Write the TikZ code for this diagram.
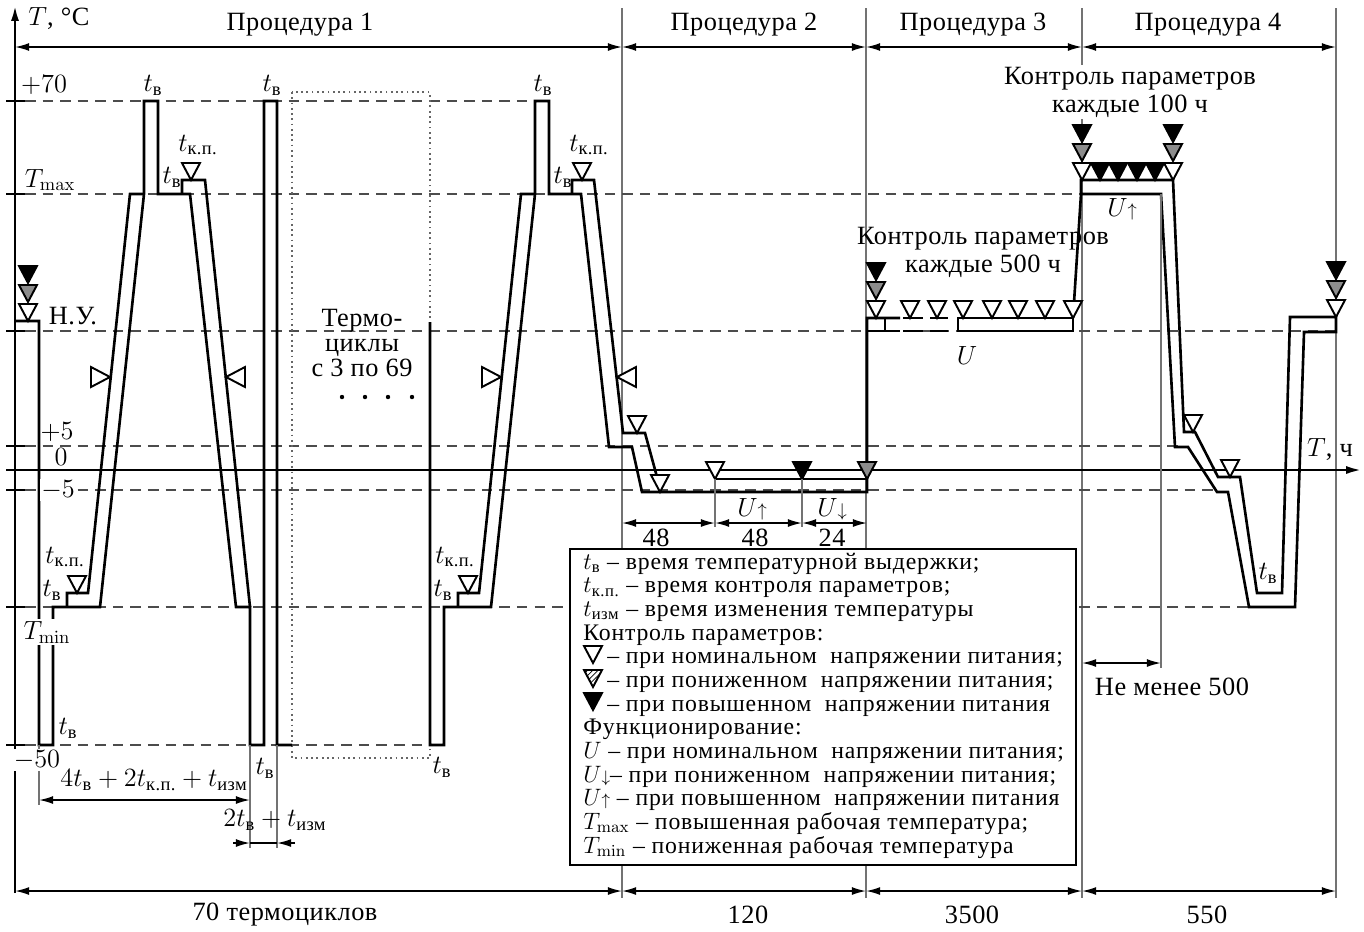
\RequirePackage{fix-cm}
\documentclass[tikz,border=0pt]{standalone}
\usepackage{amsmath}
\usepackage[no-math]{fontspec}
\setmainfont[LetterSpace=2]{Liberation Serif}
\newfontfamily\legfont[LetterSpace=3.5]{Liberation Serif}
\usetikzlibrary{arrows.meta,patterns}

\tikzset{
  prof/.style={line width=1.5pt, line join=miter},
  procline/.style={line width=0.7pt, black!55},
  lvline/.style={line width=0.8pt, black!70, dash pattern=on 6pt off 4pt},
  trimark/.style={line width=1.1pt, line join=miter},
  dimarrow/.style={line width=0.9pt, {Latex[length=8pt,width=4.5pt]}-{Latex[length=8pt,width=4.5pt]}},
  onearrow/.style={line width=0.9pt, -{Latex[length=8pt,width=4.5pt]}},
  lab/.style={inner sep=1pt},
  wlab/.style={inner sep=1pt, fill=white},
  legtext/.style={anchor=base west, inner sep=0pt, font=\legfont\fontsize{13.5}{15}\selectfont}
}
\newcommand{\tridn}[3]{\draw[trimark, fill=#3] (#1-9,#2-17) -- (#1+9,#2-17) -- (#1,#2) -- cycle;}
\newcommand{\trirt}[2]{\draw[trimark, fill=white] (#1-19,#2-10) -- (#1-19,#2+10) -- (#1,#2) -- cycle;}
\newcommand{\trilt}[2]{\draw[trimark, fill=white] (#1+19,#2-10) -- (#1+19,#2+10) -- (#1,#2) -- cycle;}
\newcommand{\tv}{t_{\text{в}}}
\newcommand{\tkp}{t_{\text{к.п.}}}
\newcommand{\tizm}{t_{\text{изм}}}

\begin{document}
\begin{tikzpicture}[x=0.02cm, y=-0.02cm, font=\fontsize{15}{16}\selectfont]
  \useasboundingbox (0,0) rectangle (1364,931);
  % procedure borders
  \foreach \x in {622,866,1082,1336} {
    \draw[procline] (\x,8) -- (\x,898);
  }
  % temperature levels
  \draw[lvline] (25,101) -- (535,101);
  \draw[lvline] (25,194) -- (1082,194);
  \draw[lvline] (25,331) -- (1336,331);
  \draw[lvline] (25,446) -- (1180,446);
  \draw[lvline] (25,490) -- (1217,490);
  \draw[lvline] (25,607) -- (1250,607);
  \draw[lvline] (25,745) -- (430,745);
  \foreach \y in {101,194,331,446,490,607,745} {
    \draw[line width=1.5pt] (6,\y) -- (25,\y);
  }
  % axes
  \draw[line width=1.5pt, -{Latex[length=9pt,width=4.5pt]}] (15,893) -- (15,5);
  \draw[line width=1.5pt, -{Latex[length=9pt,width=4.5pt]}] (6,470) -- (1362,470);
  \node[lab] (tc) at (59,19) {$T$, °C};
  \node[lab] (th) at (1330,450) {$T$, ч};
  % procedures, top and bottom
  \foreach \a/\b in {15/622, 622/866, 866/1082, 1082/1336} {
    \draw[dimarrow] (\a,47) -- (\b,47);
    \draw[dimarrow] (\a,891) -- (\b,891);
  }
  \node[lab] (pr1) at (300,25) {Процедура 1};
  \node[lab] (pr2) at (744,25) {Процедура 2};
  \node[lab] (pr3) at (973,25) {Процедура 3};
  \node[lab] (pr4) at (1208,25) {Процедура 4};
  \node[lab] (n70) at (285,915) {70 термоциклов};
  \node[lab] (n120) at (748,915) {120};
  \node[lab] (n3500) at (972,915) {3500};
  \node[lab] (n550) at (1207,915) {550};
  % skipped cycles
  \draw[dotted, line width=1pt, black!60] (292,92) rectangle (430,758);
  \node[lab, align=center, font=\fontsize{15}{14.5}\selectfont] (skip) at (362,343) {Термо-\\циклы\\с 3 по 69};
  \foreach \x in {342,365,388,412} {
    \fill (\x,397) circle (2.2);
  }
  % first cycles
  \draw[prof] (15,321) -- (39,321) -- (39,745) -- (53,745) -- (53,607) -- (100,607) -- (144,194)
    -- (144,101) -- (158,101) -- (158,194) -- (190,194) -- (236,607) -- (250,607) -- (250,745)
    -- (264,745) -- (264,101) -- (277,101) -- (277,745) -- (292,745);
  \draw[prof] (67,607) -- (67,593) -- (88,593) -- (130,194) -- (144,194);
  \draw[prof] (182,194) -- (182,180) -- (205,180) -- (250,607);
  % cycle 70 and procedure 2
  \draw[prof] (430,322) -- (430,745) -- (444,745) -- (444,607) -- (491,607) -- (535,194)
    -- (535,101) -- (549,101) -- (549,194) -- (581,194) -- (609,447) -- (632,447) -- (642,492)
    -- (867,492) -- (867,318) -- (900,318);
  \draw[prof] (458,607) -- (458,593) -- (479,593) -- (521,194) -- (535,194);
  \draw[prof] (572,194) -- (572,180) -- (594,180) -- (623,433) -- (645,433) -- (660,488);
  \draw[prof] (715,479) -- (867,479);
  % procedure 3
  \draw[prof] (867,331) -- (900,331);
  \draw[prof] (885,318) -- (885,331);
  \draw[prof] (903,318) -- (923,318);
  \draw[prof] (930,318) -- (948,318);
  \draw[prof] (903,331) -- (923,331);
  \draw[prof] (930,331) -- (948,331);
  \draw[prof] (958,318) rectangle (1073,331);
  % procedure 4
  \draw[prof] (1073,318) -- (1081,194) -- (1081,180) -- (1173,180) -- (1184,432) -- (1195,432)
    -- (1218,477) -- (1240,477) -- (1257,593) -- (1282,593) -- (1290,317) -- (1336,317)
    -- (1336,332) -- (1304,332) -- (1295,607) -- (1249,607) -- (1228,492) -- (1217,492)
    -- (1188,447) -- (1175,447) -- (1161,194) -- (1081,194);
  % parameter checks
  \tridn{28}{283}{black} \tridn{28}{302}{black!45} \tridn{28}{321}{white}
  \tridn{77}{593}{white} \tridn{191}{180}{white}
  \tridn{468}{593}{white} \tridn{582}{180}{white}
  \tridn{637}{433}{white} \tridn{660}{492}{white}
  \tridn{715}{479}{white} \tridn{802}{479}{black} \tridn{867}{479}{black!45}
  \tridn{876}{280}{black} \tridn{876}{299}{black!45} \tridn{876}{318}{white}
  \foreach \x in {910,937,963,992,1018,1045,1073} {
    \tridn{\x}{318}{white}
  }
  \foreach \x in {1082,1173} {
    \tridn{\x}{142}{black} \tridn{\x}{161}{black!45} \tridn{\x}{180}{white}
  }
  \foreach \x in {1100,1118,1137,1155} {
    \tridn{\x}{180}{black}
  }
  \tridn{1193}{432}{white} \tridn{1230}{477}{white}
  \tridn{1336}{279}{black} \tridn{1336}{298}{black!45} \tridn{1336}{317}{white}
  \trirt{110}{377} \trilt{226}{377}
  \trirt{501}{377} \trilt{617}{377}
  % level labels
  \node[lab] (l70) at (44,85) {$+70$};
  \node[lab] (lmax) at (50,180) {$T_{\max}$};
  \node[lab] (lny) at (73,316) {Н.У.};
  \node[lab] (l5) at (57,432) {$+5$};
  \node[lab] (l0) at (61,457) {$0$};
  \node[wlab] (lm5) at (58,490) {$-5$};
  \node[wlab] (lmin) at (47,632) {$T_{\min}$};
  % time labels
  \node[lab] (tv1) at (153,85) {$\tv$};
  \node[lab] (tv2) at (272,85) {$\tv$};
  \node[lab] (tv3) at (543,85) {$\tv$};
  \node[lab] (tk1) at (198,145) {$\tkp$};
  \node[lab] (tk2) at (589,145) {$\tkp$};
  \node[lab] (tv4) at (172,177) {$\tv$};
  \node[lab] (tv5) at (563,177) {$\tv$};
  \node[lab] (tk3) at (65,557) {$\tkp$};
  \node[lab] (tk4) at (455,557) {$\tkp$};
  \node[lab] (tv6) at (52,590) {$\tv$};
  \node[lab] (tv7) at (443,590) {$\tv$};
  \node[lab] (tv8) at (68,728) {$\tv$};
  \node[lab] (tv9) at (265,768) {$\tv$};
  \node[lab] (tv10) at (442,767) {$\tv$};
  \node[lab] (tv11) at (1268,573) {$\tv$};
  % durations of procedure 1
  \draw[procline] (39,745) -- (39,805);
  \draw[procline] (250,745) -- (250,848);
  \draw[procline] (277,745) -- (277,848);
  \node[wlab] (lm50) at (37,760) {$-50$};
  \draw[dimarrow] (39,800) -- (250,800);
  \draw[onearrow] (233,843) -- (250,843);
  \draw[onearrow] (295,843) -- (277,843);
  \draw[line width=0.9pt] (250,843) -- (277,843);
  \node[lab] (d1) at (154,780) {$4\tv+2\tkp+\tizm$};
  \node[lab] (d2) at (275,820) {$2\tv+\tizm$};
  % durations of procedure 2
  \draw[procline] (715,479) -- (715,527);
  \draw[procline] (802,479) -- (802,527);
  \draw[dimarrow] (622,523) -- (715,523);
  \draw[dimarrow] (715,523) -- (802,523);
  \draw[dimarrow] (802,523) -- (867,523);
  \node[lab] (h48a) at (656,538) {48};
  \node[lab] (h48b) at (755,538) {48};
  \node[lab] (h24) at (832,538) {24};
  \node[lab] (uup1) at (752,509) {$U{\scriptstyle\uparrow}$};
  \node[lab] (udn) at (832,509) {$U{\scriptstyle\downarrow}$};
  % procedures 3 and 4
  \node[lab] (u) at (967,355) {$U$};
  \node[lab] (uup2) at (1122,209) {$U{\scriptstyle\uparrow}$};
  \node[lab, align=center] (k500) at (983,252) {Контроль параметров\\каждые 500 ч};
  \node[wlab, align=center] (k100) at (1130,92) {Контроль параметров\\каждые 100 ч};
  \draw[procline] (1161,194) -- (1161,668);
  \draw[dimarrow] (1082,663) -- (1161,663);
  \node[lab] (min500) at (1172,687) {Не менее 500};
  % legend
  \draw[line width=0.9pt, fill=white] (570,549) rectangle (1076,865);
  \tridn{593}{663}{white}
  \draw[trimark, pattern=north east lines] (584,670) -- (602,670) -- (593,687) -- cycle;
  \tridn{593}{710}{black}
  \node[legtext] (g1) at (583,569) {$\tv$ – время температурной выдержки;};
  \node[legtext] (g2) at (583,592.7) {$\tkp$ – время контроля параметров;};
  \node[legtext] (g3) at (583,616.3) {$\tizm$ – время изменения температуры};
  \node[legtext] (g4) at (583,640) {Контроль параметров:};
  \node[legtext] (g5) at (607,663.7) {– при номинальном\ \ напряжении питания;};
  \node[legtext] (g6) at (607,687.3) {– при пониженном\ \ напряжении питания;};
  \node[legtext] (g7) at (607,711) {– при повышенном\ \ напряжении питания};
  \node[legtext] (g8) at (583,734.7) {Функционирование:};
  \node[legtext] (g9) at (583,758.3) {$U$ – при номинальном\ \ напряжении питания;};
  \node[legtext] (g10) at (583,782) {$U{\scriptstyle\downarrow}$– при пониженном\ \ напряжении питания;};
  \node[legtext] (g11) at (583,805.7) {$U{\scriptstyle\uparrow}$ – при повышенном\ \ напряжении питания};
  \node[legtext] (g12) at (583,829.3) {$T_{\max}$ – повышенная рабочая температура;};
  \node[legtext] (g13) at (583,853) {$T_{\min}$ – пониженная рабочая температура};
\end{tikzpicture}
\end{document}
